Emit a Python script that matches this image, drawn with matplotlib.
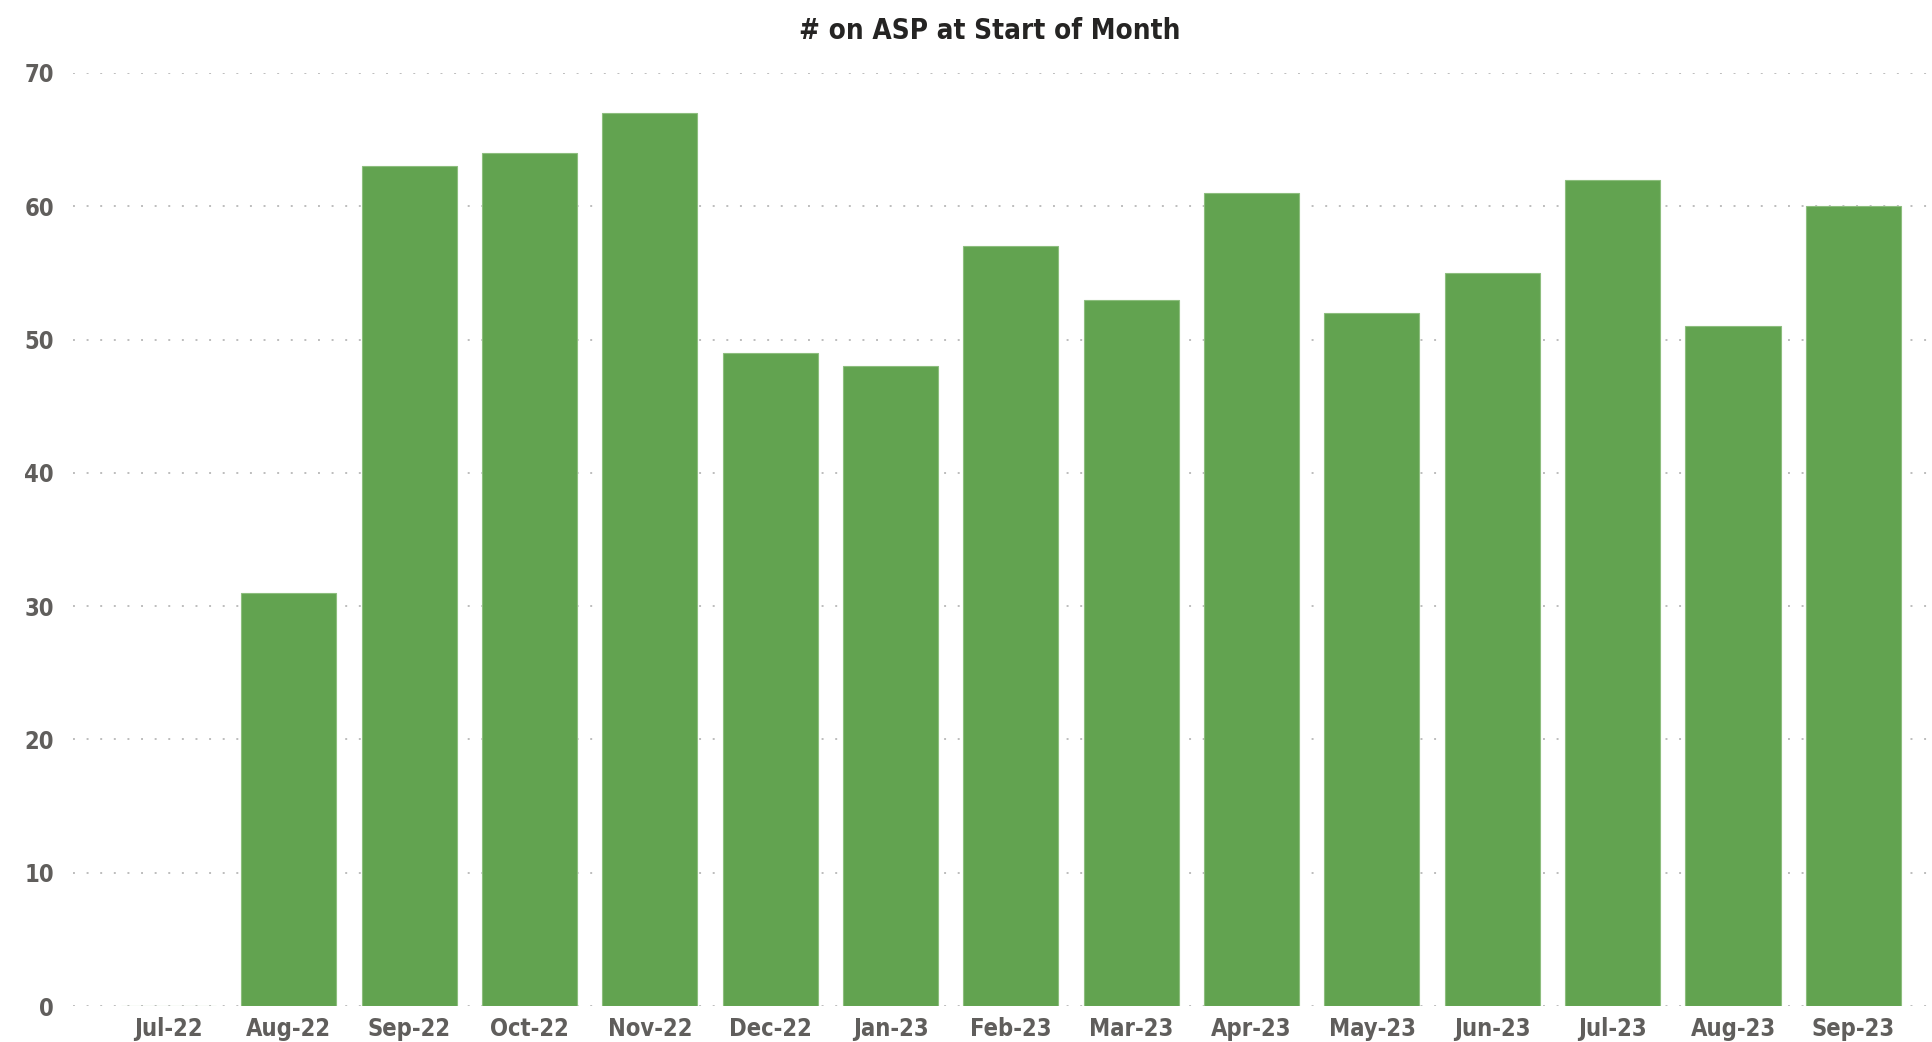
import matplotlib
matplotlib.use("Agg")
import matplotlib.pyplot as plt

# Monthly counts
months = ["Jul-22", "Aug-22", "Sep-22", "Oct-22", "Nov-22", "Dec-22", "Jan-23",
          "Feb-23", "Mar-23", "Apr-23", "May-23", "Jun-23", "Jul-23", "Aug-23", "Sep-23"]
counts = [0, 31, 63, 64, 67, 49, 48, 57, 53, 61, 52, 55, 62, 51, 60]
y_ticks = [0, 10, 20, 30, 40, 50, 60, 70]

plt.rcParams['font.family'] = ['DejaVu Sans']
plt.rcParams['font.stretch'] = 'condensed'

fig = plt.figure(figsize=(19.33, 10.42), dpi=100)
ax = fig.add_axes([0.038, 0.0345, 0.96, 0.8955])

x = list(range(len(months)))
ax.bar(x, counts, width=0.79, color="#62A350", edgecolor="#8DBE7E", linewidth=0.8, zorder=3)

ax.set_xlim(-0.79, 14.63)
ax.set_ylim(0, 70)
ax.set_yticks(y_ticks)
ax.set_xticks(x)
ax.set_xticklabels(months)

ax.grid(axis="y", linestyle=(0, (1, 6)), color="#BDBDBD", linewidth=1.4, zorder=0)
for s in ax.spines.values():
    s.set_visible(False)
ax.tick_params(axis="both", length=0, labelsize=17, colors="#605E5C")
ax.tick_params(axis="x", pad=8)
ax.tick_params(axis="y", pad=14)
for lbl in ax.get_xticklabels() + ax.get_yticklabels():
    lbl.set_fontweight("semibold")
    lbl.set_fontstretch("condensed")

fig.text(0.512, 0.97, "# on ASP at Start of Month", ha="center", va="center",
         fontsize=20, fontweight="bold", fontstretch="condensed", color="#252423")

fig.savefig("out.png", dpi=100)
